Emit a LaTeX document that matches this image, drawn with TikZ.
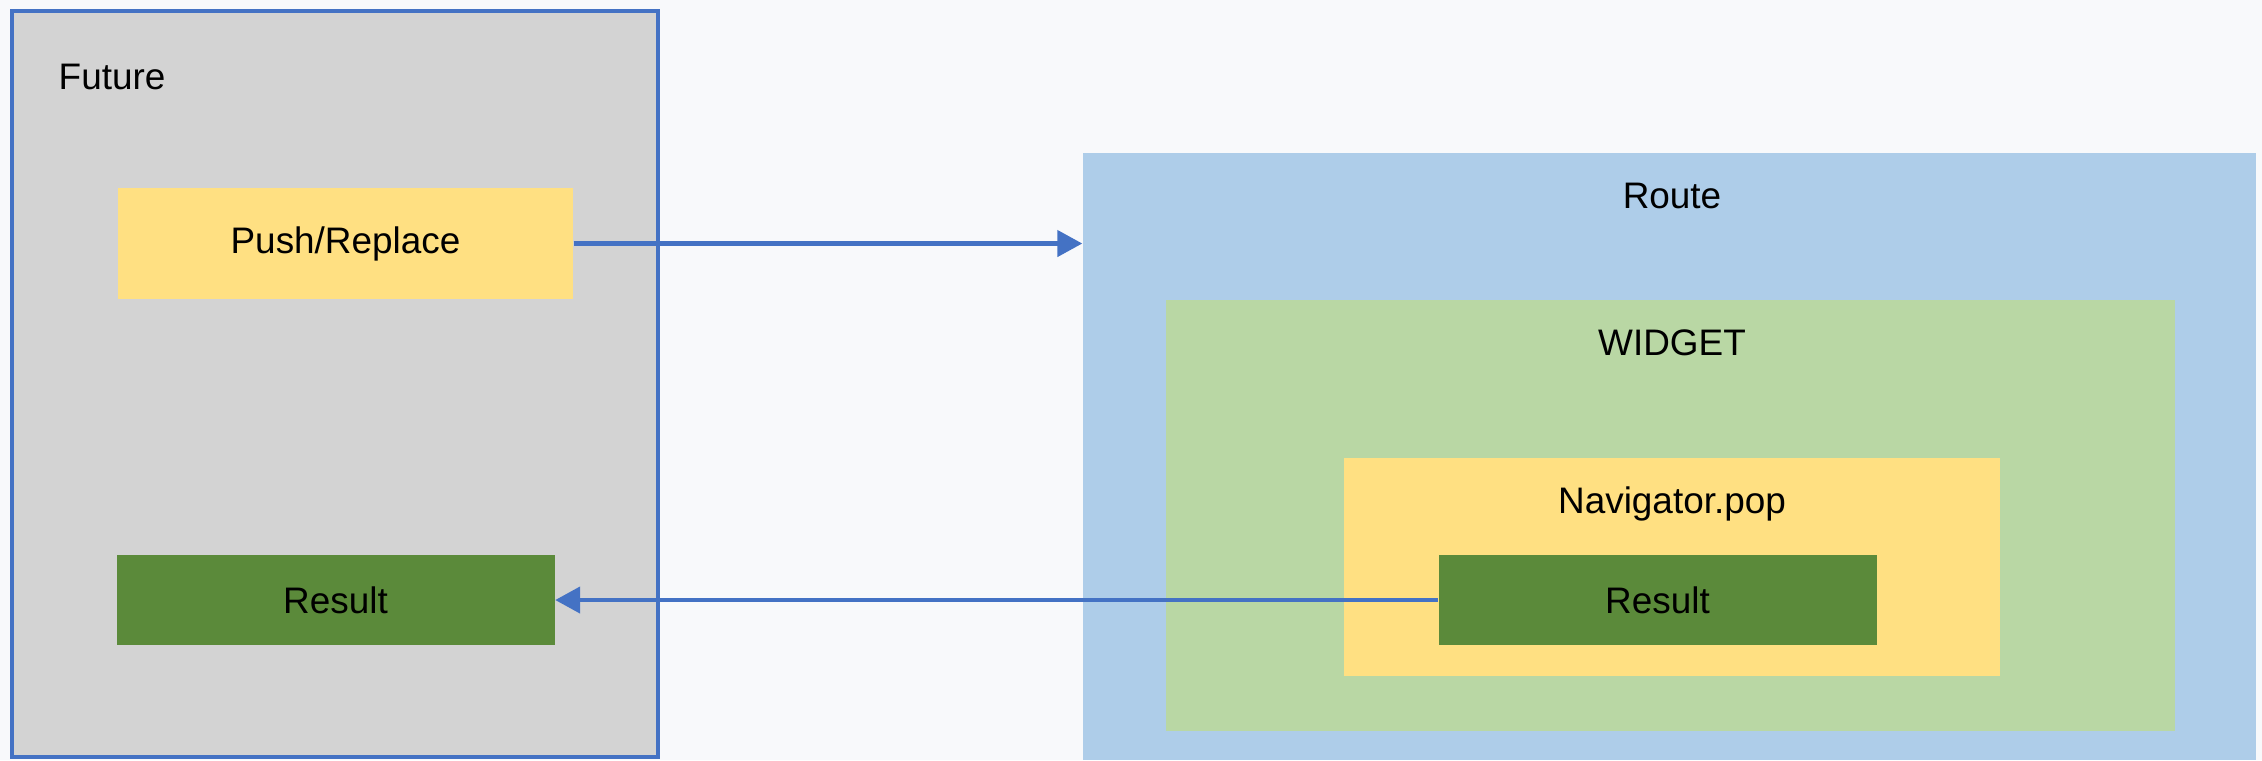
\documentclass[tikz,border=0pt]{standalone}
\usepackage{fontspec}
\setmainfont{Liberation Sans}
\usetikzlibrary{arrows.meta}
\definecolor{pagebg}{RGB}{248,249,251}
\definecolor{futuregray}{RGB}{211,211,211}
\definecolor{linkblue}{RGB}{68,114,196}
\definecolor{popyellow}{RGB}{255,224,130}
\definecolor{widgetgreen}{RGB}{185,215,164}
\definecolor{routeblue}{RGB}{174,205,233}
\definecolor{resultgreen}{RGB}{91,138,58}
\tikzset{%
    every node/.style={
      font=\fontsize{10.5pt}{12pt}\selectfont,
      inner sep=0pt
    },
    box/.style={
      rectangle,
      draw=none
    },
    future box/.style={
      box,
      fill=futuregray,
      draw=linkblue,
      line width=0.45mm
    },
    result box/.style={
      box,
      fill=resultgreen,
      minimum width=43.8mm,
      minimum height=9mm
    },
    title/.style={
      anchor=base
    },
    link/.style={
      draw=linkblue,
      line width=0.45mm
    }
  }

\begin{document}
\begin{tikzpicture}[x=0.1mm, y=-0.1mm, >={Triangle[length=2.5mm, width=2.6mm]}]
      \fill [pagebg] (0,0) rectangle (2262,760);
      \useasboundingbox (0,0) rectangle (2262,760);

      % left side
      \node [future box, minimum width=64.6mm, minimum height=74.6mm] (future) at (335,384) {};
      \node [title, anchor=base west] (futuretitle) at (58,89) {Future};
      \node [box, fill=popyellow, minimum width=45.5mm, minimum height=11.1mm] (push) at (345.5,243.5) {Push/Replace};
      \node [result box] (futres) at (335.5,600) {Result};

      % right side
      \node [box, fill=routeblue, minimum width=117.3mm, minimum height=60.7mm] (route) at (1669.5,456.5) {};
      \node [title] (routetitle) at (1672,208) {Route};
      \node [box, fill=widgetgreen, minimum width=100.9mm, minimum height=43.1mm] (widget) at (1670.5,515.5) {};
      \node [title] (widgettitle) at (1672,355) {WIDGET};
      \node [box, fill=popyellow, minimum width=65.6mm, minimum height=21.8mm] (pop) at (1672,567) {};
      \node [title] (poptitle) at (1672,513) {Navigator.pop};
      \node [result box] (popres) at (1657.5,600) {Result};

      \draw [link, ->] (push.east) -- (push.east -| route.west);
      \draw [link, ->] (popres.west) -- (futres.east);

    \end{tikzpicture}
\end{document}
